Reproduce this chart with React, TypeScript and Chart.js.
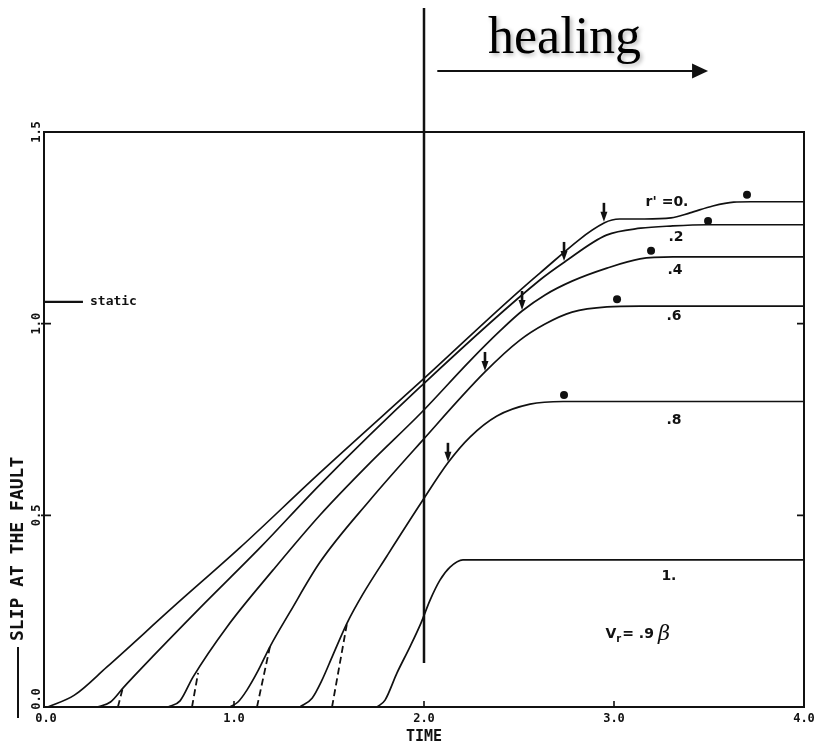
import React, { useEffect, useRef } from "react";
import { Chart, registerables } from "chart.js";

Chart.register(...registerables);

// Slip at the fault versus time, one curve per r'
const slip00T = [0.02, 0.16, 0.33, 0.68, 1.03, 1.45, 1.98, 2.61, 2.95, 3.03, 3.16, 3.3, 3.4, 3.52, 3.63, 3.72, 4.0];
const slip00V = [0.0, 0.031, 0.104, 0.261, 0.415, 0.61, 0.848, 1.132, 1.263, 1.273, 1.273, 1.276, 1.289, 1.307, 1.317, 1.318, 1.318];

const slip02T = [0.28, 0.35, 0.42, 0.505, 0.82, 1.14, 1.45, 1.98, 2.61, 2.74, 2.96, 3.14, 3.31, 3.49, 4.0];
const slip02V = [0.0, 0.013, 0.052, 0.097, 0.258, 0.417, 0.579, 0.835, 1.114, 1.161, 1.231, 1.249, 1.255, 1.258, 1.258];

const slip04T = [0.653, 0.716, 0.784, 0.963, 1.205, 1.453, 1.716, 1.984, 2.242, 2.4, 2.516, 2.637, 2.779, 2.963, 3.137, 3.311, 4.0];
const slip04V = [0.0, 0.016, 0.078, 0.209, 0.357, 0.501, 0.637, 0.767, 0.903, 0.981, 1.033, 1.075, 1.111, 1.145, 1.169, 1.174, 1.174];

const slip06T = [0.979, 1.021, 1.068, 1.126, 1.189, 1.295, 1.453, 1.716, 1.984, 2.321, 2.505, 2.637, 2.779, 2.963, 3.137, 4.0];
const slip06V = [0.0, 0.013, 0.044, 0.094, 0.157, 0.248, 0.378, 0.54, 0.691, 0.874, 0.957, 0.999, 1.03, 1.044, 1.046, 1.046];

const slip08T = [1.347, 1.411, 1.463, 1.521, 1.595, 1.679, 1.805, 1.984, 2.126, 2.242, 2.384, 2.558, 2.732, 4.0];
const slip08V = [0.0, 0.023, 0.07, 0.136, 0.219, 0.295, 0.394, 0.532, 0.637, 0.704, 0.759, 0.79, 0.797, 0.797];

const slip10T = [1.753, 1.795, 1.858, 1.926, 1.984, 2.032, 2.084, 2.137, 2.205, 2.295, 4.0];
const slip10V = [0.0, 0.018, 0.089, 0.157, 0.219, 0.279, 0.331, 0.365, 0.384, 0.384, 0.384];

// dashed onsets joining the r' = .2, .4, .6, .8 curves
const dashT = [[0.389, 0.416], [0.779, 0.811], [1.121, 1.189], [1.516, 1.595]];
const dashV = [[0.0, 0.052], [0.0, 0.089], [0.0, 0.157], [0.0, 0.219]];

// filled dots marking the final slip
const peakT = [3.7, 3.495, 3.195, 3.016, 2.737];
const peakV = [1.336, 1.268, 1.19, 1.064, 0.814];

// downward arrows (tip on the curve)
const arrowT = [2.947, 2.737, 2.516, 2.321, 2.126];
const arrowV = [1.263, 1.161, 1.033, 0.874, 0.637];

// curve labels
const curveLabels = ["r' =0.", ".2", ".4", ".6", ".8", "1."];
const labelT = [3.279, 3.326, 3.321, 3.316, 3.316, 3.289];
const labelV = [1.317, 1.226, 1.14, 1.02, 0.749, 0.342];

// static slip level
const staticV = 1.057;
const staticEndT = 0.205;
const staticLabelT = 0.242;

// axes
const xTicks = [0, 1, 2, 3, 4];
const yTicks = [0, 0.5, 1.0, 1.5];
const xTitle = "TIME";
const yTitle = "SLIP AT THE FAULT";

// healing marker
const healingT = 2.0;
const healingLineBottomV = 0.115;
const healingArrowT = [2.07, 3.495];
const healingTextT = 2.337;
const rupture = { v: "V", sub: "r", rest: "= .9", beta: "\u03b2", t: 2.955, val: 0.193 };

const INK = "#111";
const MONO = "'DejaVu Sans Mono', monospace";
const SANS = "'DejaVu Sans', sans-serif";

const pts = (ts: number[], vs: number[]) => ts.map((t, i) => ({ x: t, y: vs[i] }));

const decor = {
  id: "decor",
  afterDatasetsDraw(chart: any) {
    const { ctx, chartArea } = chart;
    const { left, right, top, bottom } = chartArea;
    const xs = chart.scales.x;
    const ys = chart.scales.y;
    const X = (t: number) => xs.getPixelForValue(t);
    const Y = (v: number) => ys.getPixelForValue(v);
    ctx.save();
    ctx.strokeStyle = INK;
    ctx.fillStyle = INK;
    ctx.lineCap = "butt";

    // frame
    ctx.lineWidth = 2;
    ctx.strokeRect(left, top, right - left, bottom - top);

    // inner ticks
    ctx.lineWidth = 1.6;
    xTicks.slice(1, -1).forEach((t) => {
      ctx.beginPath();
      ctx.moveTo(X(t), bottom);
      ctx.lineTo(X(t), bottom - 6);
      ctx.stroke();
    });
    yTicks.slice(1, -1).forEach((v) => {
      ctx.beginPath();
      ctx.moveTo(left - 3, Y(v));
      ctx.lineTo(left + 7, Y(v));
      ctx.moveTo(right - 7, Y(v));
      ctx.lineTo(right, Y(v));
      ctx.stroke();
    });

    // tick labels
    ctx.font = `bold 12px ${MONO}`;
    ctx.textAlign = "center";
    ctx.textBaseline = "top";
    xTicks.forEach((t) => ctx.fillText(t.toFixed(1), X(t) + (t === 0 ? 2 : 0), bottom + 6));
    yTicks.forEach((v) => {
      ctx.save();
      ctx.translate(left - 1, Y(v) - (v === 0 ? 8 : 0));
      ctx.rotate(-Math.PI / 2);
      ctx.textBaseline = "bottom";
      ctx.fillText(v.toFixed(1), 0, 0);
      ctx.restore();
    });

    // axis titles
    ctx.font = `bold 15px ${MONO}`;
    ctx.fillText(xTitle, X(2), bottom + 23);
    ctx.font = `bold 18px ${MONO}`;
    ctx.save();
    ctx.translate(18, Y(0) - 66);
    ctx.rotate(-Math.PI / 2);
    ctx.textAlign = "left";
    ctx.textBaseline = "middle";
    ctx.fillText(yTitle, 0, 0);
    ctx.restore();
    ctx.lineWidth = 2;
    ctx.beginPath();
    ctx.moveTo(18, Y(0) - 60);
    ctx.lineTo(18, Y(0) + 11);
    ctx.stroke();

    // static level label
    ctx.font = `bold 13px ${MONO}`;
    ctx.textAlign = "left";
    ctx.textBaseline = "middle";
    ctx.fillText("static", X(staticLabelT), Y(staticV));

    // arrows pointing down onto the curves
    arrowT.forEach((t, i) => {
      const px = X(t);
      const py = Y(arrowV[i]) - 1;
      ctx.lineWidth = 2.6;
      ctx.beginPath();
      ctx.moveTo(px, py - 19);
      ctx.lineTo(px, py - 8);
      ctx.stroke();
      ctx.beginPath();
      ctx.moveTo(px - 3.5, py - 10);
      ctx.lineTo(px + 3.5, py - 10);
      ctx.lineTo(px, py);
      ctx.closePath();
      ctx.fill();
    });

    // curve labels
    ctx.font = `bold 14px ${SANS}`;
    ctx.textAlign = "center";
    ctx.textBaseline = "middle";
    curveLabels.forEach((s, i) => ctx.fillText(s, X(labelT[i]), Y(labelV[i])));

    // rupture velocity note
    let cx = X(rupture.t);
    const cy = Y(rupture.val);
    ctx.textAlign = "left";
    ctx.textBaseline = "alphabetic";
    ctx.font = `bold 14px ${SANS}`;
    ctx.fillText(rupture.v, cx, cy + 5);
    cx += ctx.measureText(rupture.v).width;
    ctx.font = `bold 10px ${SANS}`;
    ctx.fillText(rupture.sub, cx, cy + 9);
    cx += ctx.measureText(rupture.sub).width + 1;
    ctx.font = `bold 14px ${SANS}`;
    ctx.fillText(rupture.rest, cx, cy + 5);
    cx += ctx.measureText(rupture.rest).width + 4;
    ctx.font = `italic 21px 'DejaVu Serif', serif`;
    ctx.fillText(rupture.beta, cx, cy + 7);

    // healing front
    const hx = X(healingT);
    ctx.lineWidth = 2.5;
    ctx.beginPath();
    ctx.moveTo(hx, 8);
    ctx.lineTo(hx, Y(healingLineBottomV));
    ctx.stroke();

    const ax0 = X(healingArrowT[0]);
    const ax1 = X(healingArrowT[1]);
    ctx.lineWidth = 2;
    ctx.beginPath();
    ctx.moveTo(ax0, 71);
    ctx.lineTo(ax1 - 14, 71);
    ctx.stroke();
    ctx.beginPath();
    ctx.moveTo(ax1 - 16, 63.5);
    ctx.lineTo(ax1, 71);
    ctx.lineTo(ax1 - 16, 78.5);
    ctx.closePath();
    ctx.fill();

    ctx.save();
    ctx.shadowColor = "rgba(0,0,0,0.3)";
    ctx.shadowBlur = 4;
    ctx.shadowOffsetX = 2;
    ctx.shadowOffsetY = 2;
    ctx.font = `52px 'Liberation Serif', 'Times New Roman', serif`;
    ctx.textAlign = "left";
    ctx.textBaseline = "alphabetic";
    ctx.fillStyle = "#000";
    ctx.fillText("healing", X(healingTextT), 53);
    ctx.restore();

    ctx.restore();
  },
};

export default function App() {
  const ref = useRef<HTMLCanvasElement | null>(null);

  useEffect(() => {
    const canvas = ref.current;
    if (!canvas) return;
    const curve = (ts: number[], vs: number[]) => ({
      type: "line" as const,
      data: pts(ts, vs),
      borderColor: INK,
      borderWidth: 1.7,
      pointRadius: 0,
      fill: false,
      cubicInterpolationMode: "monotone" as const,
    });
    const datasets: any[] = [
      curve(slip00T, slip00V),
      curve(slip02T, slip02V),
      curve(slip04T, slip04V),
      curve(slip06T, slip06V),
      curve(slip08T, slip08V),
      curve(slip10T, slip10V),
      ...dashT.map((ts, k) => ({
        type: "line",
        data: pts(ts, dashV[k]),
        borderColor: INK,
        borderWidth: 1.8,
        borderDash: [7, 4],
        pointRadius: 0,
        fill: false,
      })),
      {
        type: "line",
        data: [
          { x: 0, y: staticV },
          { x: staticEndT, y: staticV },
        ],
        borderColor: INK,
        borderWidth: 2.2,
        pointRadius: 0,
        fill: false,
      },
      {
        type: "scatter",
        data: pts(peakT, peakV),
        pointRadius: 4,
        pointBackgroundColor: INK,
        pointBorderWidth: 0,
        showLine: false,
      },
    ];

    const chart = new Chart(canvas, {
      type: "line",
      data: { datasets },
      options: {
        animation: false,
        responsive: false,
        devicePixelRatio: 1,
        layout: { padding: { left: 44, right: 11, top: 132, bottom: 36 } },
        plugins: { legend: { display: false }, tooltip: { enabled: false } },
        scales: {
          x: { type: "linear", min: 0, max: 4, display: false },
          y: { type: "linear", min: 0, max: 1.5, display: false },
        },
      },
      plugins: [decor],
    });
    return () => chart.destroy();
  }, []);

  return (
    <div style={{ position: "absolute", left: 0, top: 0, width: 815, height: 743, background: "#fff" }}>
      <canvas ref={ref} width={815} height={743} style={{ display: "block" }} />
    </div>
  );
}
